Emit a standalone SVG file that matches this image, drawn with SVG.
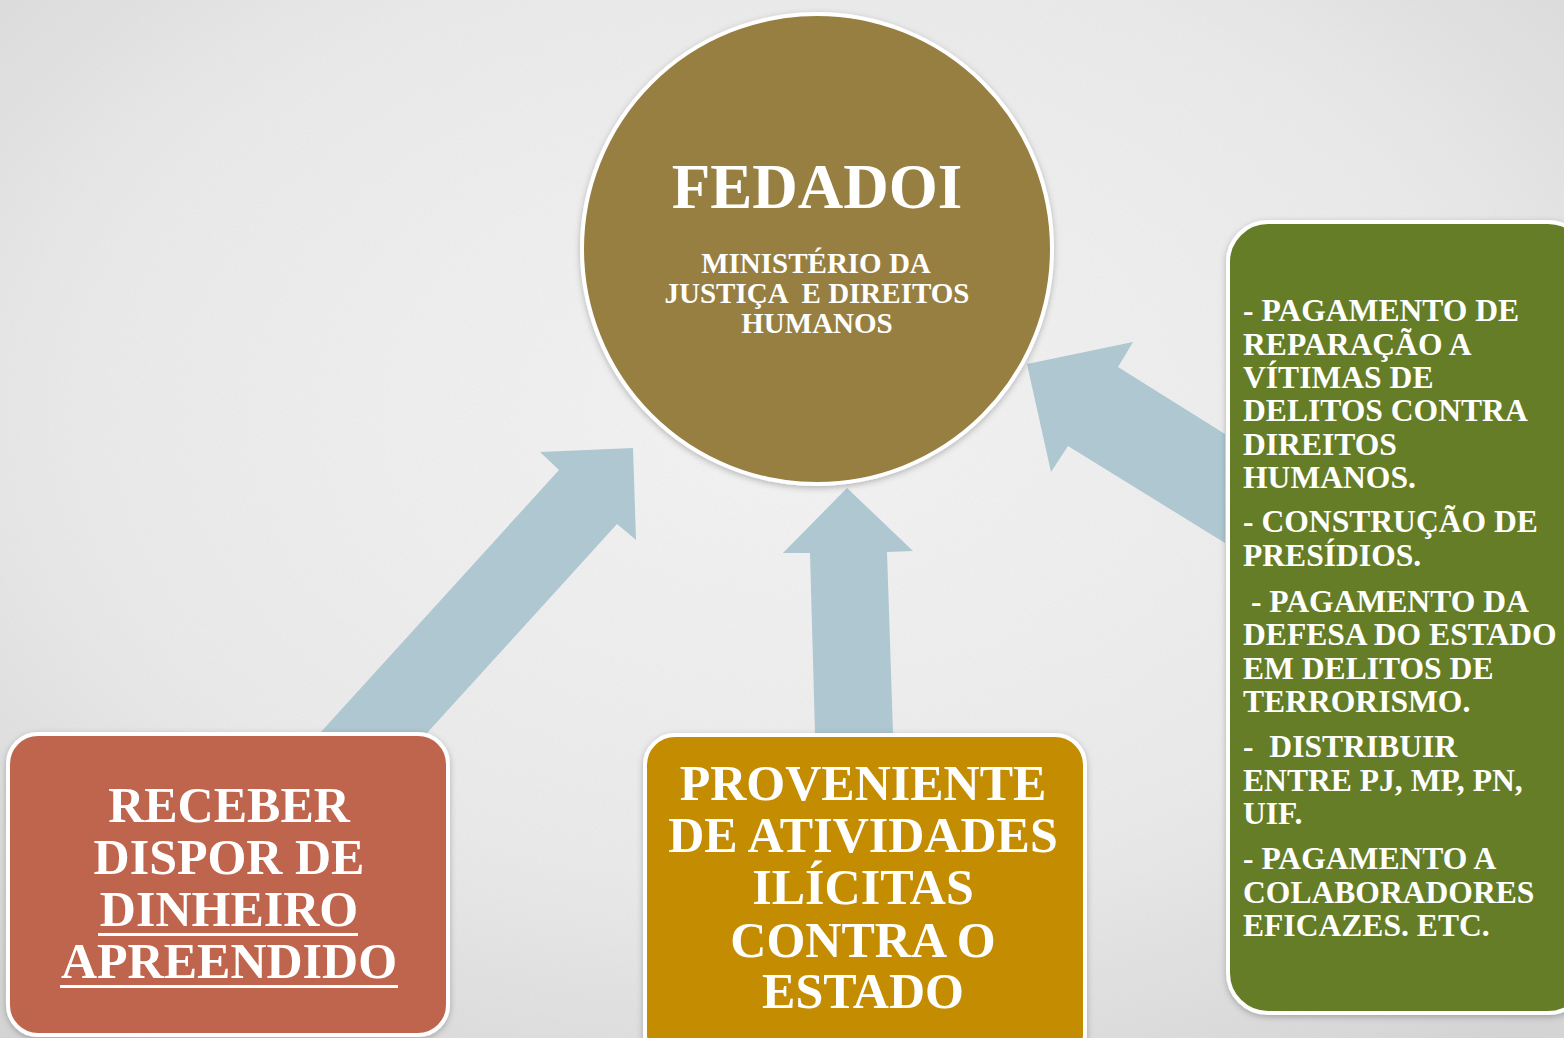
<svg xmlns="http://www.w3.org/2000/svg" width="1564" height="1038" viewBox="0 0 1564 1038">
  <defs>
    <radialGradient id="bg" cx="50%" cy="40%" r="75%">
      <stop offset="0" stop-color="#f6f6f6"/>
      <stop offset="0.6" stop-color="#ececec"/>
      <stop offset="1" stop-color="#d6d6d6"/>
    </radialGradient>
    <filter id="paper" x="0" y="0" width="100%" height="100%">
      <feTurbulence type="fractalNoise" baseFrequency="0.9" numOctaves="2" seed="3" result="n"/>
      <feColorMatrix type="matrix" values="0 0 0 0 0.5  0 0 0 0 0.5  0 0 0 0 0.5  0 0 0 0.16 0"/>
    </filter>
    <filter id="shadow" x="-10%" y="-10%" width="120%" height="120%">
      <feDropShadow dx="0" dy="2" stdDeviation="3" flood-color="#000" flood-opacity="0.25"/>
    </filter>
    <style>
      .arrow { fill: #aec7d1; }
      .t { font-family: "Liberation Serif", "Times New Roman", serif; font-weight: bold; fill: #ffffff; }
      .big { font-size: 50px; text-anchor: middle; }
      .list { font-size: 31.6px; white-space: pre; }
      .sub { font-size: 29px; text-anchor: middle; white-space: pre; }
      .box { stroke: #ffffff; stroke-width: 4; filter: url(#shadow); }
    </style>
  </defs>

  <rect x="0" y="0" width="1564" height="1038" fill="url(#bg)"/>
  <rect x="0" y="0" width="1564" height="1038" filter="url(#paper)"/>

  <g id="connectors">
    <polygon class="arrow" points="320,733 559,470 540,452 633,448 636,540 617,524 427,733"/>
    <polygon class="arrow" points="815,733 810,553 783,553 847,488 913,551 887,552 893,733"/>
    <polygon class="arrow" points="1225,434 1118,367 1133,342 1027,364 1051,472 1068,446 1225,543"/>
  </g>

  <g id="fedadoi">
    <circle cx="817" cy="249" r="235" fill="#977f43" stroke="#ffffff" stroke-width="4" filter="url(#shadow)"/>
    <text class="t" x="817" y="208" font-size="63" text-anchor="middle">FEDADOI</text>
    <text class="t sub" x="816" y="273">MINISTÉRIO DA</text>
    <text class="t sub" x="817" y="303">JUSTIÇA  E DIREITOS</text>
    <text class="t sub" x="817" y="333">HUMANOS</text>
  </g>

  <g id="destinos">
    <rect class="box" x="1228" y="222" width="360" height="791" rx="40" ry="40" fill="#657d26"/>
    <text class="t list" x="1243" y="321">- PAGAMENTO DE</text>
    <text class="t list" x="1243" y="355">REPARAÇÃO A</text>
    <text class="t list" x="1243" y="388">VÍTIMAS DE</text>
    <text class="t list" x="1243" y="421">DELITOS CONTRA</text>
    <text class="t list" x="1243" y="455">DIREITOS</text>
    <text class="t list" x="1243" y="488">HUMANOS.</text>
    <text class="t list" x="1243" y="532">- CONSTRUÇÃO DE</text>
    <text class="t list" x="1243" y="566">PRESÍDIOS.</text>
    <text class="t list" x="1243" y="612"> - PAGAMENTO DA</text>
    <text class="t list" x="1243" y="645">DEFESA DO ESTADO</text>
    <text class="t list" x="1243" y="679">EM DELITOS DE</text>
    <text class="t list" x="1243" y="712">TERRORISMO.</text>
    <text class="t list" x="1243" y="757">-  DISTRIBUIR</text>
    <text class="t list" x="1243" y="791">ENTRE PJ, MP, PN,</text>
    <text class="t list" x="1243" y="824">UIF.</text>
    <text class="t list" x="1243" y="869">- PAGAMENTO A</text>
    <text class="t list" x="1243" y="903">COLABORADORES</text>
    <text class="t list" x="1243" y="936">EFICAZES. ETC.</text>
  </g>

  <g id="receber">
    <rect class="box" x="8" y="734" width="440" height="301" rx="30" ry="30" fill="#c0654d"/>
    <text class="t big" x="229" y="822">RECEBER</text>
    <text class="t big" x="229" y="874">DISPOR DE</text>
    <text class="t big" x="229" y="926">DINHEIRO</text>
    <text class="t big" x="229" y="978">APREENDIDO</text>
    <rect x="98" y="933" width="260" height="3" fill="#ffffff"/>
    <rect x="60" y="985" width="338" height="3" fill="#ffffff"/>
  </g>

  <g id="proveniente">
    <rect class="box" x="645" y="735" width="440" height="330" rx="30" ry="30" fill="#c48c02"/>
    <text class="t big" x="863" y="800">PROVENIENTE</text>
    <text class="t big" x="863" y="852">DE ATIVIDADES</text>
    <text class="t big" x="863" y="904">ILÍCITAS</text>
    <text class="t big" x="863" y="957">CONTRA O</text>
    <text class="t big" x="863" y="1008">ESTADO</text>
  </g>
</svg>
